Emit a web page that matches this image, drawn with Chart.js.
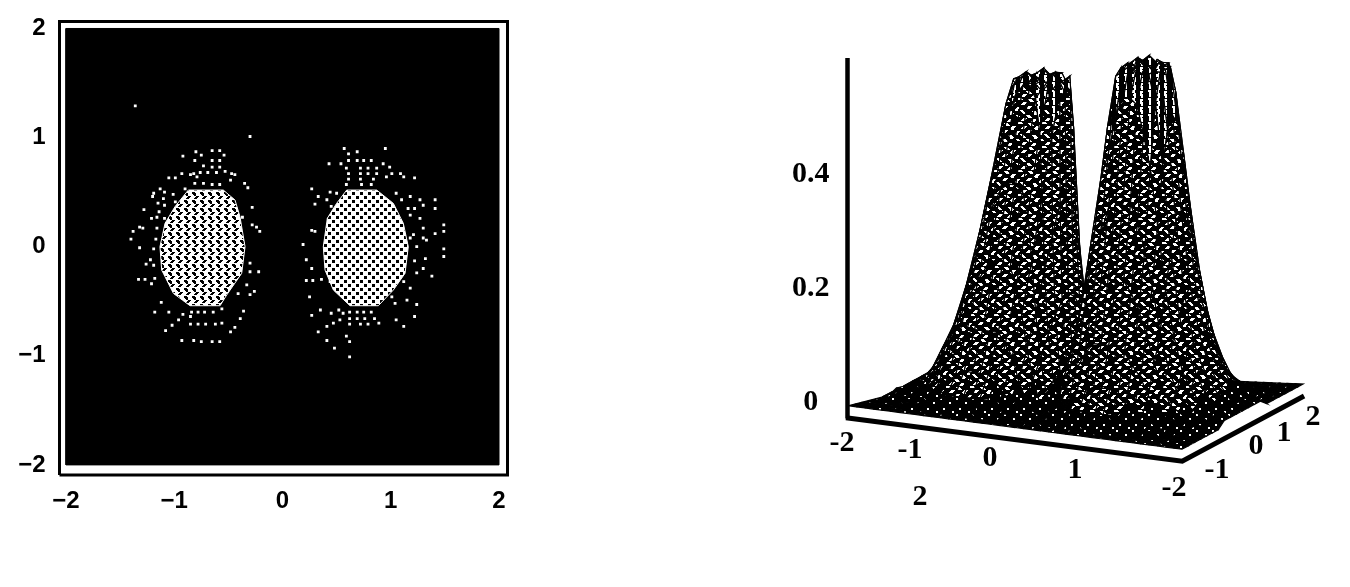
<!DOCTYPE html>
<html lang="en">
<head>
<meta charset="UTF-8">
<title>Density and surface plot</title>
<style>
  body { margin: 0; background: #fff; }
  canvas { position: absolute; }
  #density { left: 0; top: 0; }
  #surface { left: 780px; top: 30px; }
</style>
</head>
<body>
<canvas id="density" width="540" height="530"></canvas>
<canvas id="surface" width="560" height="500"></canvas>
<script src="https://cdn.jsdelivr.net/npm/chart.js"></script>
<script>
// ---- density plot values ----
const densityTicks = [-2, -1, 0, 1, 2];
const leftCoreX = [-.87, -.547, -.439, -.393, -.346, -.377, -.516, -.577, -.854, -1.008, -1.116, -1.132, -1.085, -.993, -.87];
const leftCoreY = [.519, .519, .428, .275, 0, -.244, -.443, -.541, -.541, -.428, -.214, 0, .214, .367, .519];
const rightCoreX = [.593, .87, 1.024, 1.116, 1.162, 1.132, 1.024, .885, .624, .47, .393, .377, .414, .5, .593];
const rightCoreY = [.519, .519, .397, .214, 0, -.244, -.397, -.541, -.541, -.397, -.214, 0, .26, .397, .519];
const leftHaloX = [-.92, -.80, -.65, -.58, -.75, -.54, -.81, -.65, -.58, -.73, -.65, -.58, -.82, -.76, -.69, -.61, -.53, -.47, -.44, -1.05,
  -.99, -.93, -.85, -.79, -.48, -.81, -.73, -.65, -.58, -.90, -.35, -.32, -1.13, -1.19, -1.09, -1.01, -1.20, -1.10, -.99, -1.15,
  -1.09, -1.14, -1.28, -1.21, -1.16, -1.09, -1.32, -1.16, -1.29, -1.40, -1.38, -1.17, -1.19, -1.32, -1.22, -1.26, -1.19, -1.33, -1.27, -1.18,
  -1.21, -1.12, -1.18, -1.05, -.96, -1.02, -1.08, -.92, -.85, -.93, -.82, -.75, -.65, -.58, -.48, -.44, -.39, -.36, -.56, -.84,
  -.78, -.72, -.64, -.85, -.78, -.71, -.62, -.56, -.28, -.37, -.28, -.24, -.21, -.30, -.22, -.30, -.33, -.26, -.30, -.41, -1.36, -.30];
const leftHaloY = [.83, .87, .88, .88, .84, .84, .79, .79, .79, .74, .73, .73, .67, .68, .68, .68, .69, .67, .66, .63,
  .63, .67, .66, .64, .61, .58, .58, .57, .57, .53, .58, .54, .53, .49, .50, .48, .46, .44, .41, .40,
  .38, .32, .34, .26, .27, .26, .18, .17, .17, .07, .14, .07, -.02, -.01, -.12, -.16, -.17, -.30, -.30, -.29,
  -.34, -.51, -.60, -.60, -.67, -.72, -.77, -.62, -.64, -.86, -.86, -.87, -.87, -.87, -.78, -.74, -.66, -.59, -.57, -.60,
  -.60, -.60, -.60, -.71, -.71, -.71, -.71, -.70, .36, .27, .20, .18, .14, -.15, -.23, -.23, -.35, -.41, -.44, -.43, 1.29, 1.01];
const rightHaloX = [.57, .95, .61, .69, .43, .54, .61, .69, .75, .82, .93, .59, .72, .79, .87, .99, .61, .72, .79, .87,
  1.01, 1.09, .61, .72, .84, .96, 1.12, 1.22, .59, .73, .82, .27, .44, .50, .33, .41, .30, .45, 1.05, 1.10,
  1.18, 1.27, 1.30, 1.41, 1.16, 1.22, 1.41, 1.18, 1.27, 1.30, 1.49, 1.21, 1.30, 1.41, 1.49, 1.33, 1.24, 1.49, 1.18, 1.32,
  1.22, 1.49, 1.30, 1.24, 1.38, 1.12, 1.18, 1.01, 1.15, 1.24, 1.04, 1.05, 1.12, 1.22, .27, .30, .19, .22, .27, .22,
  .28, .36, .44, .25, .35, .27, .45, .52, .56, .62, .69, .75, .82, .53, .62, .69, .76, .85, .47, .62,
  .72, .79, .89, .41, .33, .41, .59, .62, .48, .62];
const rightHaloY = [.90, .90, .85, .87, .76, .76, .79, .79, .79, .79, .76, .72, .72, .72, .72, .73, .67, .67, .67, .67,
  .67, .67, .62, .62, .62, .64, .64, .63, .57, .57, .57, .53, .50, .49, .46, .43, .39, .37, .49, .43,
  .46, .43, .38, .43, .35, .35, .35, .29, .26, .17, .20, .11, .08, .12, .14, .06, 0, -.02, .08, -.11,
  -.13, -.09, -.20, -.24, -.27, -.32, -.38, -.46, -.49, -.53, -.52, -.67, -.73, -.64, .15, .14, .02, -.12, -.20, -.31,
  -.31, -.30, -.32, -.46, -.58, -.63, -.61, -.58, -.61, -.60, -.60, -.60, -.60, -.67, -.66, -.66, -.66, -.66, -.70, -.71,
  -.71, -.71, -.70, -.73, -.78, -.86, -.82, -.87, -.93, -1.01];

// ---- surface plot values, heights in hundredths, rows repeat for +y and -y ----
const surfaceTicks = [0, 0.2, 0.4];
const frontLabels = ['-2', '-1', '0', '1', '2'];
const sideLabels = ['-2', '-1', '0', '1', '2'];
const xGrid = [-2, -1.9, -1.8, -1.7, -1.6, -1.5, -1.4, -1.3, -1.2, -1.1, -1, -.9, -.8, -.7, -.6, -.5, -.4, -.3, -.2, -.1, 0,
  .1, .2, .3, .4, .5, .6, .7, .8, .9, 1, 1.1, 1.2, 1.3, 1.4, 1.5, 1.6, 1.7, 1.8, 1.9, 2];
const yGrid = [-2, -1.8, -1.6, -1.4, -1.2, -1, -.8, -.6, -.4, -.2, 0, .2, .4, .6, .8, 1, 1.2, 1.4, 1.6, 1.8, 2];
const flat = [0, 0, 0, 0, 0, 0, 0, 0, 0, 0, 0, 0, 0, 0, 0, 0, 0, 0, 0, 0, 0, 0, 0, 0, 0, 0, 0, 0, 0, 0, 0, 0, 0, 0, 0, 0, 0, 0, 0, 0, 0];
const r16 = [0, 0, 0, 0, 0, 1, 1, 1, 2, 2, 3, 3, 3, 3, 3, 3, 2, 1, 1, 0, 0, 0, 1, 1, 2, 3, 3, 3, 3, 3, 3, 3, 2, 1, 1, 1, 0, 0, 0, 0, 0];
const r14 = [0, 0, 0, 0, 1, 1, 2, 2, 4, 5, 6, 7, 7, 7, 7, 6, 4, 3, 2, 1, 0, 1, 2, 3, 4, 6, 6, 7, 7, 7, 6, 5, 4, 3, 2, 1, 1, 0, 0, 0, 0];
const r12 = [0, 0, 1, 1, 1, 2, 3, 5, 8, 11, 13, 14, 14, 14, 14, 12, 10, 6, 3, 1, 0, 1, 3, 6, 9, 12, 14, 14, 14, 14, 13, 11, 9, 6, 4, 2, 2, 1, 1, 0, 0];
const r10 = [0, 1, 1, 2, 2, 4, 6, 9, 14, 19, 22, 25, 26, 26, 25, 22, 17, 11, 6, 2, 1, 3, 8, 14, 19, 21, 24, 26, 26, 25, 23, 20, 16, 11, 7, 4, 3, 2, 1, 1, 0];
const r08 = [0, 1, 1, 2, 4, 6, 9, 14, 21, 29, 34, 38, 39, 39, 38, 34, 26, 17, 9, 3, 1, 5, 13, 21, 29, 32, 37, 39, 39, 38, 35, 30, 24, 16, 10, 6, 4, 3, 2, 1, 0];
const r06 = [1, 1, 2, 3, 5, 9, 13, 20, 30, 41, 49, 54, 56, 56, 54, 48, 37, 24, 13, 5, 1, 7, 18, 30, 41, 46, 53, 56, 56, 55, 50, 44, 34, 23, 15, 9, 6, 4, 3, 1, 1];
const r04 = [1, 2, 3, 4, 7, 11, 17, 26, 39, 52, 56, 57, 56, 56, 55, 56, 47, 30, 16, 6, 2, 9, 22, 36, 50, 59, 60, 61, 60, 60, 60, 55, 44, 29, 18, 12, 8, 5, 3, 2, 1];
const r02 = [1, 2, 3, 5, 8, 12, 19, 30, 44, 56, 56, 55, 57, 56, 56, 55, 54, 35, 18, 7, 2, 10, 25, 41, 54, 60, 61, 60, 59, 61, 60, 60, 50, 34, 21, 13, 9, 6, 4, 2, 1];
const r00 = [1, 2, 3, 5, 8, 13, 20, 31, 46, 56, 57, 56, 56, 55, 57, 56, 54, 36, 19, 7, 2, 10, 26, 42, 56, 60, 59, 61, 60, 60, 61, 60, 52, 35, 22, 14, 9, 6, 4, 2, 1];
const heightRows = [flat, flat, r16, r14, r12, r10, r08, r06, r04, r02, r00, r02, r04, r06, r08, r10, r12, r14, r16, flat, flat];

// speckle tiles for the scanned look, # = white
const tileMid = [
  '...####.........####....', '..####.........####.....', '.####.........####......', '...............###......',
  '........####............', '.......####..........###', '......####..........###.', '...................###..',
  '###................###..', '.###........####........', '..###........####.......', '...###........####......',
  '..............###.......', '......####..........###.', '.......####..........###', '........####............',
  '...####.................', '..####.......###........', '.####.......####........', '...........####.........',
  '##....................##', '###.....####..........##', '.........####...........', '..........####..........'];
const tileLow = [
  '##..............', '##..............', '................', '................',
  '.........##.....', '.........##.....', '................', '................',
  '................', '................', '...##...........', '...##...........',
  '................', '............##..', '............##..', '................'];
const tileTop = [
  '###......##......###....', '###......##......###....', '.##......##.......##....', '.##...............##....',
  '........###.....###.....', '###.....###.....###.....', '###......##.....###.....', '##.......##.......##....'];
const tileCoreLeft = ['...#####', '....####', '#...####', '##..####', '####...#', '###...##', '##...###', '########'];
const tileCoreRight = ['...#####', '...#####', '...#####', '########', '####...#', '####...#', '####...#', '########'];

function makeTile(rows) {
  const c = document.createElement('canvas');
  c.width = rows[0].length;
  c.height = rows.length;
  const g = c.getContext('2d');
  g.fillStyle = '#000';
  g.fillRect(0, 0, c.width, c.height);
  g.fillStyle = '#fff';
  rows.forEach((r, y) => { for (let x = 0; x < r.length; x++) if (r[x] === '#') g.fillRect(x, y, 1, 1); });
  return g.createPattern(c, 'repeat');
}

const zip = (xs, ys) => xs.map((x, i) => ({x, y: ys[i]}));
const minusSign = v => String(v).replace('-', '\u2212');

// ---- density chart ----
const dMinX = -2.06, dMaxX = 2.0785, dMinY = -2.0926, dMaxY = 2.064;
function shape(points, fill, border, width) {
  return {type: 'line', data: points, showLine: true, pointRadius: 0, tension: 0, fill: fill ? 'shape' : false,
    backgroundColor: fill, borderColor: border, borderWidth: width, clip: false};
}
const tickFont = {family: 'Liberation Sans', size: 24, weight: 'bold'};
new Chart(document.getElementById('density'), {
  type: 'scatter',
  data: {datasets: [
    {data: zip(leftHaloX, leftHaloY), pointStyle: 'rect', pointRadius: 2, backgroundColor: '#fff', borderWidth: 0},
    {data: zip(rightHaloX, rightHaloY), pointStyle: 'rect', pointRadius: 2, backgroundColor: '#fff', borderWidth: 0},
    shape(zip(leftCoreX, leftCoreY), makeTile(tileCoreLeft), '#fff', 1),
    shape(zip(rightCoreX, rightCoreY), makeTile(tileCoreRight), '#fff', 1),
    shape(zip([-2, 2, 2, -2, -2], [-2, -2, 2, 2, -2]), '#000', '#000', 1),
    shape(zip([dMinX, dMaxX, dMaxX, dMinX, dMinX], [dMinY, dMinY, dMaxY, dMaxY, dMinY]), null, '#000', 3)
  ]},
  options: {
    responsive: false, animation: false, events: [],
    layout: {padding: {top: 21.5, right: 32.5}},
    plugins: {legend: {display: false}, tooltip: {enabled: false}},
    scales: {
      x: {
        type: 'linear', min: dMinX, max: dMaxX,
        grid: {display: false}, border: {display: false},
        afterBuildTicks: s => { s.ticks = densityTicks.map(v => ({value: v})); },
        afterFit: s => { s.height = 55; },
        ticks: {autoSkip: false, maxRotation: 0, padding: 4, color: '#000', font: tickFont, callback: minusSign}
      },
      y: {
        type: 'linear', min: dMinY, max: dMaxY,
        grid: {display: false}, border: {display: false},
        afterBuildTicks: s => { s.ticks = densityTicks.map(v => ({value: v})); },
        afterFit: s => { s.width = 59.5; },
        ticks: {autoSkip: false, padding: 6, color: '#000', font: tickFont, callback: minusSign}
      }
    }
  }
});

// ---- surface chart ----
// plane corners on screen, x in page pixels, y converted to height units
const cornerA = [848, 405], cornerB = [1182, 449], cornerC = [1303, 383], cornerD = [984, 370];
const zeroLine = 401, pxPerUnit = 575;
const vanishX = 1150, converge = 0.33;
const rowToZ = py => (zeroLine - py) / pxPerUnit;
function project(x, y, z) {
  const u = (x + 2) / 4, v = (y + 2) / 4;
  const fx = cornerA[0] + (cornerB[0] - cornerA[0]) * u, fy = cornerA[1] + (cornerB[1] - cornerA[1]) * u;
  const bx = cornerD[0] + (cornerC[0] - cornerD[0]) * u, by = cornerD[1] + (cornerC[1] - cornerD[1]) * u;
  const px = fx + (bx - fx) * v;
  return {x: px + (vanishX - px) * z * converge, y: rowToZ(fy + (by - fy) * v) + z};
}

const mid = makeTile(tileMid), low = makeTile(tileLow), upper = makeTile(tileTop);
const quads = [];
// first dataset is painted last, so go from the near corner (x=2, y=-2) backwards
for (let j = 0; j < yGrid.length - 1; j++) {
  for (let i = xGrid.length - 2; i >= 0; i--) {
    const a = heightRows[j][i], b = heightRows[j][i + 1], c = heightRows[j + 1][i + 1], d = heightRows[j + 1][i];
    const m = (a + b + c + d) / 4;
    quads.push({
      type: 'line', showLine: true, pointRadius: 0, tension: 0, fill: 'shape', clip: false,
      borderColor: '#000', borderWidth: 1.2,
      backgroundColor: m >= 50 ? upper : (m < 4 ? low : mid),
      data: [
        project(xGrid[i], yGrid[j], a / 100), project(xGrid[i + 1], yGrid[j], b / 100),
        project(xGrid[i + 1], yGrid[j + 1], c / 100), project(xGrid[i], yGrid[j + 1], d / 100),
        project(xGrid[i], yGrid[j], a / 100)
      ]
    });
  }
}
const floorZ = -0.021;
const overlays = [
  shape([project(-2, -2, floorZ), project(2, -2, floorZ), project(2, 2, floorZ)], null, '#000', 5),
  shape([{x: 847.5, y: rowToZ(418)}, {x: 847.5, y: rowToZ(53)}], null, '#000', 4.5)
];

// tick text for the two plane axes, anchored in page pixels
const frontLabelAt = [[842, 443], [910, 450], [990, 458], [1075, 470], [920, 498]];
const sideLabelAt = [[1174, 488], [1217, 470], [1256, 446], [1284, 433], [1313, 417]];
const planeLabels = {
  id: 'planeLabels',
  afterDatasetsDraw(chart) {
    const {ctx, scales} = chart;
    ctx.save();
    ctx.font = 'bold 30px "Liberation Serif"';
    ctx.fillStyle = '#000';
    ctx.textAlign = 'center';
    ctx.textBaseline = 'middle';
    const put = (labels, at) => labels.forEach((t, i) =>
      ctx.fillText(t, scales.x.getPixelForValue(at[i][0]), scales.y.getPixelForValue(rowToZ(at[i][1]))));
    put(frontLabels, frontLabelAt);
    put(sideLabels, sideLabelAt);
    ctx.restore();
  }
};

new Chart(document.getElementById('surface'), {
  type: 'scatter',
  data: {datasets: overlays.concat(quads)},
  plugins: [planeLabels],
  options: {
    responsive: false, animation: false, events: [],
    layout: {padding: {top: 23, bottom: 60}},
    plugins: {legend: {display: false}, tooltip: {enabled: false}},
    scales: {
      x: {type: 'linear', min: 847.5, max: 1340, display: false},
      y: {
        type: 'linear', min: rowToZ(470), max: rowToZ(53),
        grid: {display: false}, border: {display: false},
        afterBuildTicks: s => { s.ticks = surfaceTicks.map(v => ({value: v})); },
        afterFit: s => { s.width = 67.5; },
        ticks: {autoSkip: false, padding: 10, crossAlign: 'center', color: '#000',
          font: {family: 'Liberation Serif', size: 30, weight: 'bold'},
          callback: v => v === 0 ? '0' : v.toFixed(1)}
      }
    }
  }
});
</script>
</body>
</html>
